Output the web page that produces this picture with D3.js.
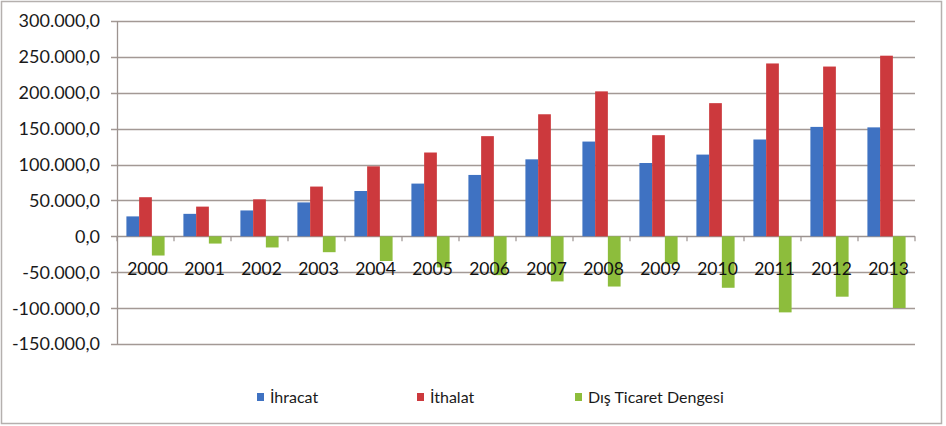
<!DOCTYPE html>
<html><head><meta charset="utf-8">
<script src="https://cdn.jsdelivr.net/npm/d3@7"></script>
<style>body{margin:0;background:#fff}svg{display:block}</style>
</head><body><svg id="c" width="946" height="426"></svg>
<script>
const years = ["2000","2001","2002","2003","2004","2005","2006","2007","2008","2009","2010","2011","2012","2013"];
const ihracat = [27775,31334,36059,47253,63167,73476,85535,107272,132027,102143,113883,134907,152462,151803];
const ithalat = [54503,41399,51554,69340,97540,116774,139576,170063,201964,140928,185544,240842,236545,251661];
const denge = [-26728,-10065,-15495,-22087,-34373,-43298,-54041,-62791,-69936,-38786,-71661,-105935,-84083,-99859];
const seriesNames = ["İhracat","İthalat","Dış Ticaret Dengesi"];
const colors = ["#3f72c2","#cc393d","#8dbd3c"];
const yTicks = [300000,250000,200000,150000,100000,50000,0,-50000,-100000,-150000];

const svg = d3.select("#c");
const font = "Lato, 'Open Sans', sans-serif";
const L = 117, R = 915, T = 21, B = 344;

svg.append("rect").attr("x",1.5).attr("y",1.5).attr("width",940).attr("height",422)
  .attr("fill","#fff").attr("stroke","#b5b0ae").attr("stroke-width",1.5);

const y = d3.scaleLinear().domain([-150000,300000]).range([B,T]);
const x0 = d3.scaleBand().domain(years).range([L,R]).paddingInner(0.33).paddingOuter(0.165);
const x1 = d3.scaleBand().domain([0,1,2]).range([0,x0.bandwidth()]);

const fmt = v => {
  const s = d3.format(",.1f")(v);
  return s.replace(/,/g,"#").replace(".",",").replace(/#/g,".").replace("−","-");
};

// gridlines
svg.append("g").selectAll("line").data(yTicks).join("line")
  .attr("x1",L-6).attr("x2",R).attr("y1",d=>Math.round(y(d))+0.5).attr("y2",d=>Math.round(y(d))+0.5)
  .attr("stroke",d=>d===0?"#9c9390":"#a39995").attr("stroke-width",1.3);

// y axis line
svg.append("line").attr("x1",L+0.5).attr("x2",L+0.5).attr("y1",T).attr("y2",B).attr("stroke","#9c9390").attr("stroke-width",1.3);

// y labels
svg.append("g").selectAll("text").data(yTicks).join("text")
  .attr("x",100).attr("y",d=>y(d)).attr("dy","0.36em").attr("text-anchor","end")
  .attr("font-family",font).attr("font-size",18).attr("fill","#1a1a1a").text(d=>fmt(d));

// bars
const data = years.map((yr,i)=>({yr, vals:[ihracat[i],ithalat[i],denge[i]]}));
const g = svg.append("g").selectAll("g").data(data).join("g").attr("transform",d=>`translate(${x0(d.yr)},0)`);
g.selectAll("rect").data(d=>d.vals.map((v,k)=>({v,k}))).join("rect")
  .attr("x",d=>x1(d.k)).attr("width",x1.bandwidth())
  .attr("y",d=>y(Math.max(0,d.v))).attr("height",d=>Math.abs(y(d.v)-y(0)))
  .attr("fill",d=>colors[d.k]);

// category ticks on zero line
const step = (R-L)/years.length;
svg.append("g").selectAll("line").data(d3.range(years.length+1)).join("line")
  .attr("x1",i=>L+i*step).attr("x2",i=>L+i*step).attr("y1",y(0)).attr("y2",y(0)+5)
  .attr("stroke","#9c9390").attr("stroke-width",1.2);

// year labels
svg.append("g").selectAll("text").data(years).join("text")
  .attr("x",d=>x0(d)+x0.bandwidth()/2+2).attr("y",y(0)+39).attr("text-anchor","middle")
  .attr("font-family",font).attr("font-size",17.5).attr("fill","#111").text(d=>d);

// legend
const legX = [257,417,575];
const lg = svg.append("g").selectAll("g").data(seriesNames).join("g")
  .attr("transform",(d,i)=>`translate(${legX[i]},397)`);
lg.append("rect").attr("x",0).attr("y",-4).attr("width",7).attr("height",8).attr("fill",(d,i)=>colors[i]);
lg.append("text").attr("x",13).attr("y",0).attr("dy","0.35em").attr("font-family",font).attr("font-size",16)
  .attr("fill","#1a1a1a").text(d=>d);
</script></body></html>
